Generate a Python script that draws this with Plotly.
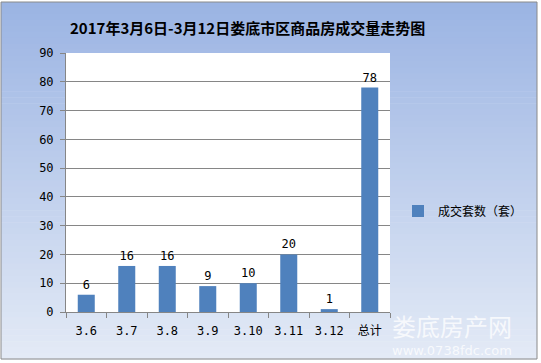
import plotly.graph_objects as go

categories = ["3.6", "3.7", "3.8", "3.9", "3.10", "3.11", "3.12", "总计"]
values = [6, 16, 16, 9, 10, 20, 1, 78]
series_name = "成交套数（套）"
title = "2017年3月6日-3月12日娄底市区商品房成交量走势图"

W, H = 541, 363
L, R, T, B = 66, 390, 53, 312  # plot area in px
pw, ph = R - L, B - T

def px_x(x):
    return (x - L) / pw

def px_y(y):
    return (B - y) / ph

fig = go.Figure()
fig.add_trace(go.Bar(
    x=categories, y=values, name=series_name,
    marker=dict(color="#4F81BD", line=dict(width=0)),
    text=[str(v) for v in values], textposition="outside",
    textfont=dict(family="DejaVu Sans Mono, Noto Sans CJK SC", size=12, color="#000"),
    cliponaxis=False,
))

shapes = []
top = (0x9B, 0xB4, 0xE3)
bot = (0xE3, 0xEA, 0xF6)
y0px, y1px = 2, 359
n = 60
for i in range(n):
    a = y0px + (y1px - y0px) * i / n
    b = y0px + (y1px - y0px) * (i + 1) / n + 0.6
    t = i / (n - 1)
    c = tuple(round(top[k] + (bot[k] - top[k]) * t) for k in range(3))
    shapes.append(dict(type="rect", xref="paper", yref="paper", layer="below",
                       x0=px_x(1), x1=px_x(537), y0=px_y(b), y1=px_y(a),
                       fillcolor="rgb(%d,%d,%d)" % c, line=dict(width=0)))
shapes.append(dict(type="rect", xref="paper", yref="paper", layer="below",
                   x0=px_x(1), x1=px_x(537), y0=px_y(359), y1=px_y(2),
                   fillcolor="rgba(0,0,0,0)", line=dict(color="#8A8A8A", width=1)))
shapes.append(dict(type="rect", xref="paper", yref="paper", layer="below",
                   x0=0, x1=1, y0=0, y1=1, fillcolor="white", line=dict(width=0)))

annotations = [
    dict(text="<b>" + title + "</b>", xref="paper", yref="paper",
         x=px_x(247), y=px_y(28), showarrow=False, xanchor="center", yanchor="middle",
         font=dict(family="Noto Sans CJK SC", size=15, color="#000")),
    dict(text="娄底房产网", xref="paper", yref="paper",
         x=px_x(452), y=px_y(325), showarrow=False, xanchor="center", yanchor="middle",
         font=dict(family="Noto Sans CJK SC", size=24, color="rgba(255,255,255,0.75)")),
    dict(text="www.0738fdc.com", xref="paper", yref="paper",
         x=px_x(452), y=px_y(350), showarrow=False, xanchor="center", yanchor="middle",
         font=dict(family="DejaVu Sans", size=13, color="rgba(255,255,255,0.75)")),
]

fig.update_layout(
    width=W, height=H,
    margin=dict(l=L, r=W - R, t=T, b=H - B, pad=0, autoexpand=False),
    paper_bgcolor="white", plot_bgcolor="white",
    showlegend=True,
    legend=dict(x=px_x(398), y=px_y(211), xanchor="left", yanchor="middle",
                bgcolor="rgba(0,0,0,0)", itemwidth=30,
                font=dict(family="Noto Sans CJK SC", size=12, color="#000")),
    bargap=0.58,
    shapes=shapes, annotations=annotations,
    xaxis=dict(type="category", showline=True, linecolor="#868686", linewidth=1,
               ticks="outside", tickson="boundaries", ticklen=5, tickcolor="#868686",
               showgrid=False, ticklabelstandoff=8,
               tickfont=dict(family="DejaVu Sans Mono, Noto Sans CJK SC", size=12, color="#000")),
    yaxis=dict(range=[0, 90], dtick=10, showline=True, linecolor="#868686", linewidth=1,
               ticks="outside", ticklen=5, tickcolor="#868686",
               showgrid=True, gridcolor="#868686", gridwidth=1, zeroline=False,
               ticklabelstandoff=4,
               tickfont=dict(family="DejaVu Sans Mono", size=12, color="#000")),
    font=dict(family="Noto Sans CJK SC"),
)

fig.write_html("out.html", config={"displayModeBar": False},
               post_script="document.body.style.margin='0';")
